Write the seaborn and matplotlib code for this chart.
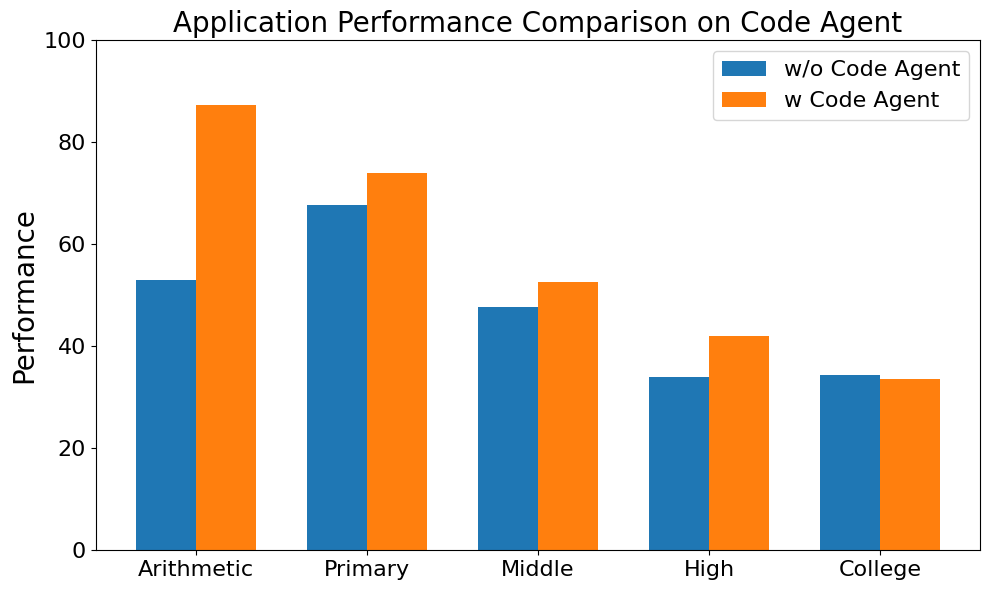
import pandas as pd
import matplotlib
matplotlib.use("Agg")
import matplotlib.pyplot as plt
import seaborn as sns

categories = ["Arithmetic", "Primary", "Middle", "High", "College"]
without_agent = [52.9, 67.6, 47.6, 33.9, 34.3]
with_agent = [87.3, 73.9, 52.5, 42.0, 33.5]
series_names = ["w/o Code Agent", "w Code Agent"]

df = pd.DataFrame({
    "Category": categories * 2,
    "Performance": without_agent + with_agent,
    "Setting": [series_names[0]] * len(categories) + [series_names[1]] * len(categories),
})

fig, ax = plt.subplots(figsize=(9.89, 5.9), dpi=100)
sns.barplot(data=df, x="Category", y="Performance", hue="Setting",
            palette=["#1f77b4", "#ff7f0e"], saturation=1, width=0.7,
            ax=ax, errorbar=None, linewidth=0)

ax.set_xlim(-0.585, 4.585)
ax.set_ylim(0, 100)
ax.set_xlabel("")
ax.set_ylabel("Performance", fontsize=20)
ax.set_title("Application Performance Comparison on Code Agent", fontsize=20)
ax.tick_params(axis="both", labelsize=16)
ax.legend(fontsize=16, loc="upper right", title=None)

fig.subplots_adjust(left=0.097, right=0.991, top=0.932, bottom=0.068)
plt.savefig("out.png", dpi=100)
